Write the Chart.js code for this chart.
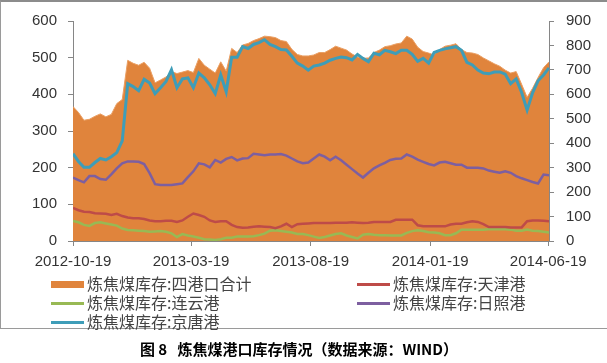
<!DOCTYPE html>
<html>
<head>
<meta charset="utf-8">
<script src="https://cdn.jsdelivr.net/npm/chart.js@4.4.0/dist/chart.umd.min.js"></script>
<style>
  body { margin: 0; background: #fff; }
  #wrap { position: relative; width: 607px; height: 363px; overflow: hidden; background: #fff; }
  #frame { position: absolute; left: 0; top: 0; width: 606px; height: 326px;
           border-left: 1px solid #9a9a9a; border-top: 2px solid #8c8c8c; border-bottom: 1px solid #9a9a9a; }
  canvas { position: absolute; left: 0; top: 0; }
  .item { position: absolute; white-space: nowrap; height: 20px; line-height: 20px;
          font: 16px "Noto Sans CJK SC", sans-serif; color: #444; }
  .sw { display: inline-block; width: 33px; vertical-align: middle; margin-right: 3px; margin-top: -2px; }
  #cap { position: absolute; left: 0; width: 598px; top: 338px; text-align: center; white-space: pre;
         font: bold 15px "Noto Sans CJK SC", sans-serif; color: #000; }
</style>
</head>
<body>
<div id="wrap">
  <div id="frame"></div>
  <canvas id="stockChart" width="607" height="363"></canvas>
  <div id="legend"></div>
  <div id="cap">图 8   炼焦煤港口库存情况（数据来源：WIND）</div>
</div>
<script>
// weekly port stocks of coking coal (10k t), first week 2012-10-19
const tickLabels = ["2012-10-19", "2013-03-19", "2013-08-19", "2014-01-19", "2014-06-19"];

// 四港口合计 (right axis)
const total = [550, 526, 494, 498, 510, 520, 508, 518, 562, 579,
  739, 727, 719, 731, 707, 647, 659, 671, 693, 685,
  691, 697, 689, 747, 719, 703, 687, 733, 695, 788,
  771, 802, 808, 820, 828, 838, 836, 832, 820, 816,
  784, 763, 757, 757, 761, 771, 771, 783, 797, 789,
  781, 765, 753, 747, 749, 771, 781, 795, 799, 806,
  810, 838, 826, 793, 775, 769, 761, 783, 797, 801,
  807, 783, 771, 769, 763, 749, 737, 725, 715, 699,
  687, 693, 641, 588, 625, 669, 709, 733];

// 天津港
const tianjin = [90, 84, 80, 79, 76, 75, 74, 71, 74, 68,
  64, 62, 62, 60, 56, 54, 54, 55, 55, 52,
  56, 66, 75, 71, 66, 56, 52, 54, 54, 44,
  38, 36, 37, 39, 40, 39, 38, 35, 40, 47,
  38, 46, 47, 48, 49, 49, 49, 49, 50, 50,
  50, 51, 50, 49, 50, 52, 52, 52, 52, 58,
  58, 58, 58, 43, 40, 40, 40, 40, 40, 45,
  47, 47, 51, 54, 52, 46, 38, 38, 38, 38,
  37, 37, 37, 54, 56, 56, 55, 54];

// 连云港
const lianyun = [55, 51, 44, 41, 49, 51, 48, 45, 42, 34,
  30, 29, 28, 27, 25, 26, 27, 25, 21, 11,
  19, 15, 12, 9, 5, 4, 3, 5, 9, 9,
  12, 12, 12, 13, 16, 20, 28, 29, 27, 25,
  23, 19, 19, 16, 12, 8, 11, 15, 19, 21,
  15, 11, 7, 17, 19, 17, 16, 16, 15, 15,
  15, 22, 27, 29, 27, 24, 23, 21, 16, 16,
  21, 31, 31, 31, 31, 31, 32, 32, 32, 32,
  31, 28, 28, 31, 28, 27, 25, 23];

// 日照港
const rizhao = [173, 166, 160, 177, 177, 169, 167, 182, 198, 212,
  217, 217, 216, 210, 185, 155, 153, 153, 153, 155,
  157, 174, 190, 212, 209, 201, 221, 214, 224, 229,
  220, 225, 226, 238, 236, 234, 236, 236, 237, 233,
  225, 217, 212, 214, 225, 236, 230, 220, 230, 220,
  208, 196, 184, 173, 186, 198, 206, 213, 221, 224,
  225, 236, 230, 222, 216, 210, 206, 214, 216, 212,
  208, 208, 200, 200, 200, 198, 192, 189, 186, 190,
  186, 177, 171, 166, 161, 157, 181, 179];

// 京唐港
const jingtang = [238, 217, 201, 201, 214, 225, 221, 230, 241, 273,
  429, 421, 410, 441, 431, 402, 418, 435, 467, 418,
  442, 445, 418, 458, 445, 426, 402, 453, 407, 501,
  501, 530, 525, 536, 541, 549, 536, 530, 522, 521,
  504, 485, 477, 466, 477, 480, 485, 493, 498, 502,
  500, 494, 509, 498, 489, 512, 508, 520, 516, 511,
  520, 520, 509, 490, 498, 485, 514, 520, 524, 527,
  530, 520, 487, 480, 466, 458, 456, 461, 461, 455,
  429, 442, 405, 357, 404, 437, 453, 472];

const dayOf = s => (Date.parse(s) - Date.parse(tickLabels[0])) / 864e5;
const tickDays = tickLabels.map(dayOf);
const days = total.map((v, i) => i * 7);

const tickFont = { family: "Liberation Sans", size: 15 };

const chart = new Chart(document.getElementById("stockChart"), {
  type: "line",
  data: {
    labels: days,
    datasets: [
      { label: "炼焦煤库存:四港口合计", data: total, yAxisID: "y2", order: 1,
        fill: "origin", backgroundColor: "#E0843C", borderColor: "#EA9F63", borderWidth: 1 },
      { label: "炼焦煤库存:天津港", data: tianjin, yAxisID: "y", borderColor: "#BE4B48", borderWidth: 2.5 },
      { label: "炼焦煤库存:连云港", data: lianyun, yAxisID: "y", borderColor: "#98B954", borderWidth: 2.5 },
      { label: "炼焦煤库存:日照港", data: rizhao, yAxisID: "y", borderColor: "#7D5FA0", borderWidth: 2.5 },
      { label: "炼焦煤库存:京唐港", data: jingtang, yAxisID: "y", borderColor: "#3E9DB8", borderWidth: 3 },
    ],
  },
  options: {
    responsive: false,
    animation: false,
    layout: { padding: { top: 17, bottom: 92, left: 0, right: 0 } },
    elements: { point: { radius: 0 }, line: { tension: 0, fill: false } },
    plugins: { legend: { display: false }, tooltip: { enabled: false } },
    scales: {
      x: {
        type: "linear",
        min: 0,
        max: days[days.length - 1],
        afterBuildTicks: s => { s.ticks = tickDays.map(v => ({ value: v })); },
        afterFit: s => { s.height = 30; },
        ticks: { callback: v => tickLabels[tickDays.indexOf(v)], maxRotation: 0, autoSkip: false,
                 padding: 7, color: "#333", font: tickFont },
        grid: { drawOnChartArea: false, tickLength: 5, color: "#868686" },
        border: { color: "#868686" },
      },
      y: {
        position: "left",
        min: 0, max: 600,
        afterFit: s => { s.width = 73; },
        ticks: { stepSize: 100, padding: 11, color: "#333", font: tickFont },
        grid: { drawOnChartArea: false, tickLength: 5, color: "#868686" },
        border: { color: "#868686" },
      },
      y2: {
        position: "right",
        min: 0, max: 900,
        afterFit: s => { s.width = 58; },
        ticks: { stepSize: 100, padding: 12, color: "#333", font: tickFont },
        grid: { drawOnChartArea: false, tickLength: 5, color: "#868686" },
        border: { color: "#868686" },
      },
    },
  },
});

// two-column legend like the original
const slots = [[51, 271], [357, 271], [51, 290], [357, 290], [51, 309]];
const legend = document.getElementById("legend");
chart.data.datasets.forEach((ds, i) => {
  const item = document.createElement("div");
  item.className = "item";
  item.style.left = slots[i][0] + "px";
  item.style.top = slots[i][1] + "px";
  const sw = document.createElement("span");
  sw.className = "sw";
  if (ds.fill) { sw.style.height = "7px"; sw.style.background = ds.backgroundColor; }
  else { sw.style.height = "3px"; sw.style.background = ds.borderColor; }
  item.appendChild(sw);
  item.appendChild(document.createTextNode(ds.label));
  legend.appendChild(item);
});
</script>
</body>
</html>
